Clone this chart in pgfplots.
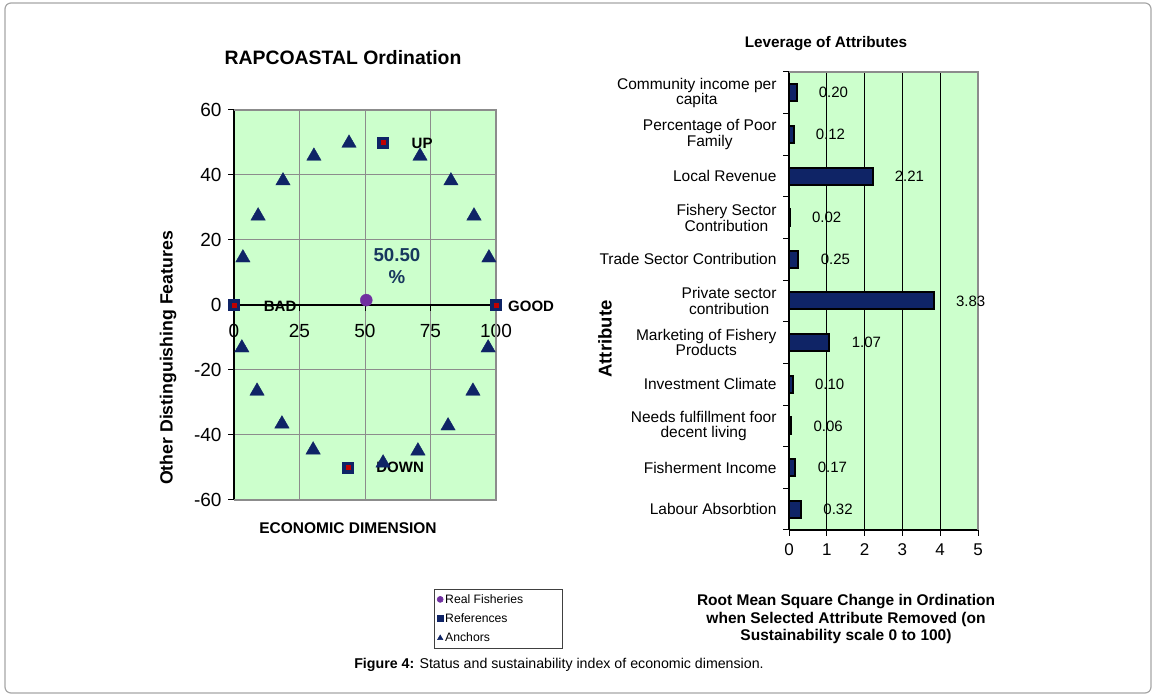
\documentclass[border=0pt]{standalone}
\usepackage{fontspec}
\setmainfont{Liberation Sans}
\usepackage{pgfplots}
\pgfplotsset{compat=1.18}

\definecolor{plotbg}{HTML}{CCFFCC}
\definecolor{navy}{HTML}{0F2466}
\definecolor{refred}{HTML}{C00000}
\definecolor{realpurple}{HTML}{7030A0}
\definecolor{pctblue}{HTML}{17375E}
\definecolor{framegray}{HTML}{A6A6A6}
\definecolor{bordergray}{HTML}{8C8C8C}
\newcommand{\fs}[1]{\fontsize{#1}{#1}\selectfont}

\begin{document}
\begin{tikzpicture}
\useasboundingbox (0pt,0pt) rectangle (1157pt,698pt);
\draw[framegray, line width=1.2pt, rounded corners=6pt] (5pt,5pt) rectangle (1151pt,695pt);

% ordination plot
\begin{axis}[
    at={(234pt,198pt)}, anchor=south west,
    scale only axis, width=262pt, height=390pt,
    xmin=0, xmax=100, ymin=-60, ymax=60,
    axis x line*=middle, axis y line*=left,
    axis line style={black, line width=1.2pt},
    xtick={0,25,50,75,100}, ytick={-60,-40,...,60},
    hide obscured x ticks=false, hide obscured y ticks=false,
    tick align=outside, major tick length=6pt,
    tick style={black, line width=1pt},
    xmajorgrids, ymajorgrids,
    grid style={bordergray, line width=1pt},
    axis background/.style={fill=plotbg},
    ticklabel style={font=\fs{19}},
    xticklabel style={yshift=-10pt},
    yticklabel style={xshift=-3pt},
    /pgf/number format/assume math mode=true,
    clip=false,
    legend style={at={(0.763,-0.228)}, anchor=north west, font=\fs{12.2},
        draw=black!75, line width=0.6pt, inner xsep=3pt, inner ysep=3pt, row sep=5pt},
    legend cell align=left,
    legend image post style={mark size=3pt},
]
\draw[bordergray, line width=2.5pt] (rel axis cs:0,1) -- (rel axis cs:1,1) -- (rel axis cs:1,0) -- (rel axis cs:0,0);

\addplot[only marks, mark=*, mark size=6pt, color=realpurple]
    coordinates {(50.5,1.5)};
\addlegendentry{\makebox[112pt][l]{Real Fisheries}}

\addplot[only marks, mark=square*, mark size=5.5pt, draw=navy, fill=navy]
    coordinates {(0,0) (100,0) (56.9,50) (43.5,-50)};
\addlegendentry{\makebox[112pt][l]{References}}

\addplot[only marks, mark=square*, mark size=2.2pt, color=refred, forget plot]
    coordinates {(0,0) (100,0) (56.9,50) (43.5,-50)};

\addplot[only marks, mark=triangle*, mark size=8.3pt, color=navy]
    coordinates {
    (3.4,14.5) (9.2,27.4) (18.7,38.2) (30.5,45.8) (43.9,49.8)
    (71.0,45.8) (82.8,38.2) (91.6,27.4) (97.3,14.5)
    (3.0,-13.2) (8.8,-26.5) (18.3,-36.6) (30.2,-44.6) (56.9,-48.6)
    (70.2,-44.9) (81.7,-37.2) (91.2,-26.5) (97.0,-13.2)
    };
\addlegendentry{\makebox[112pt][l]{Anchors}}

\node[font=\bfseries\fs{15}] at (axis cs:71.8,49.8) {UP};
\node[font=\bfseries\fs{15}] at (axis cs:17.6,-0.3) {BAD};
\node[font=\bfseries\fs{15}] at (axis cs:113.4,-0.3) {GOOD};
\node[font=\bfseries\fs{15}] at (axis cs:63.4,-49.8) {DOWN};
\node[font=\bfseries\fs{18.7}, text=pctblue] at (axis cs:62.2,15.4) {50.50};
\node[font=\bfseries\fs{18.7}, text=pctblue] at (axis cs:62.2,8.6) {\%};
\end{axis}

% leverage plot
\begin{axis}[
    at={(789pt,168pt)}, anchor=south west,
    scale only axis, width=189pt, height=458pt,
    xbar, bar width=17pt,
    xmin=0, xmax=5, ymin=-0.5, ymax=10.5,
    axis x line*=bottom, axis y line*=left,
    axis line style={black, line width=1.2pt},
    xtick={0,...,5},
    ytick={-0.5,0.5,...,10.5}, y tick label as interval,
    yticklabels={
        {Labour Absorbtion},
        {Fisherment Income},
        {Needs fulfillment foor\\decent living},
        {Investment Climate},
        {Marketing of Fishery\\Products},
        {Private sector\\contribution},
        {Trade Sector Contribution},
        {Fishery Sector\\Contribution},
        {Local Revenue},
        {Percentage of Poor\\Family},
        {Community income per\\capita}},
    yticklabel style={align=center, font=\fs{15.5}, xshift=-3pt},
    xticklabel style={font=\fs{17}, yshift=-4pt},
    tick align=outside, major tick length=6pt,
    tick style={black, line width=1pt},
    xmajorgrids, grid style={black, line width=0.9pt},
    axis background/.style={fill=plotbg},
    /pgf/number format/assume math mode=true,
    nodes near coords={\pgfmathprintnumber[fixed,fixed zerofill,precision=2]{\pgfplotspointmeta}},
    nodes near coords align=horizontal,
    point meta=x,
    every node near coord/.append style={font=\fs{15}, black, xshift=18pt},
    clip=false,
]
\draw[bordergray, line width=2.5pt] (rel axis cs:0,1) -- (rel axis cs:1,1) -- (rel axis cs:1,0);
\addplot[fill=navy, draw=black, line width=2pt]
    coordinates {
    (0.32,0) (0.17,1) (0.06,2) (0.10,3) (1.07,4) (3.83,5)
    (0.25,6) (0.02,7) (2.21,8) (0.12,9) (0.20,10)
    };
\end{axis}

% titles and labels
\node[font=\bfseries\fs{19.4}] at (343pt,640pt) {RAPCOASTAL Ordination};
\node[font=\bfseries\fs{17.7}, rotate=90] at (168pt,340pt) {Other Distinguishing Features};
\node[font=\bfseries\fs{15.5}] at (348pt,170pt) {ECONOMIC DIMENSION};
\node[font=\bfseries\fs{15.3}] at (826pt,654pt) {Leverage of Attributes};
\node[font=\bfseries\fs{18.5}, rotate=90] at (605pt,359pt) {Attribute};
\node[font=\bfseries\fontsize{15.5}{17.5}\selectfont, align=center] at (846pt,79pt)
    {Root Mean Square Change in Ordination\\when Selected Attribute Removed (on\\Sustainability scale 0 to 100)};
\node[font=\fs{14.2}] at (559pt,33pt) {\textbf{Figure 4:} Status and sustainability index of economic dimension.};
\end{tikzpicture}
\end{document}
